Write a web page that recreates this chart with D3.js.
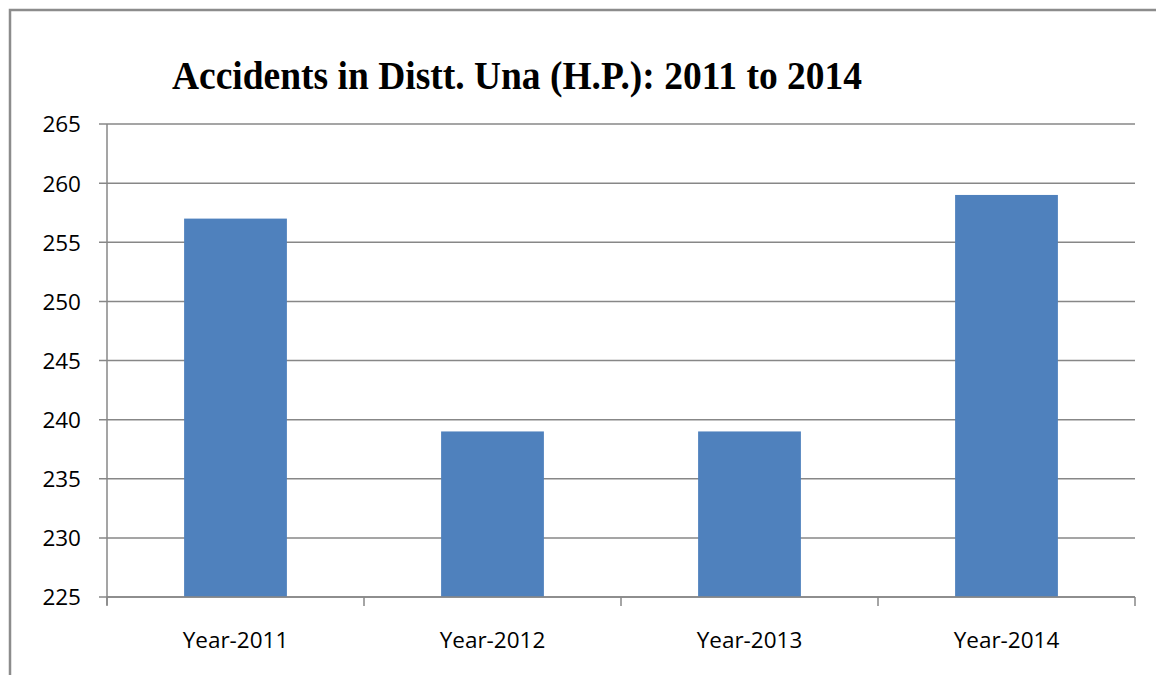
<!DOCTYPE html>
<html>
<head>
<meta charset="utf-8">
<script src="https://cdn.jsdelivr.net/npm/d3@7"></script>
<style>
html,body{margin:0;padding:0;background:#fff;}
svg{display:block;}
</style>
</head>
<body>
<svg id="chart" width="1156" height="675"></svg>
<script>
const categories = ["Year-2011", "Year-2012", "Year-2013", "Year-2014"];
const accidents = [257, 239, 239, 259];
const yTicks = [225, 230, 235, 240, 245, 250, 255, 260, 265];
const titleText = "Accidents in Distt. Una (H.P.): 2011 to 2014";

const svg = d3.select("#chart");
const W = 1156, H = 675;
const plot = {left: 107, right: 1135, top: 124, bottom: 597};

svg.append("rect").attr("width", W).attr("height", H).attr("fill", "#fff");
// outer border
svg.append("rect")
  .attr("x", 10).attr("y", 10).attr("width", W + 20).attr("height", H + 20)
  .attr("fill", "none").attr("stroke", "#8c8c8c").attr("stroke-width", 2.5);

const x = d3.scaleBand().domain(categories).range([plot.left, plot.right])
  .paddingInner(0.6).paddingOuter(0.3);
const y = d3.scaleLinear().domain([225, 265]).range([plot.bottom, plot.top]);

const gridColor = "#878787";

// gridlines
svg.append("g").selectAll("line").data(yTicks).join("line")
  .attr("x1", plot.left - 8).attr("x2", plot.right)
  .attr("y1", d => y(d)).attr("y2", d => y(d))
  .attr("stroke", gridColor).attr("stroke-width", 1.5);

// bars
svg.append("g").selectAll("rect").data(accidents).join("rect")
  .attr("x", (d, i) => x(categories[i]))
  .attr("width", x.bandwidth())
  .attr("y", d => y(d))
  .attr("height", d => y(225) - y(d))
  .attr("fill", "#4F81BD");

// y axis line
svg.append("line").attr("x1", plot.left).attr("x2", plot.left)
  .attr("y1", plot.top).attr("y2", plot.bottom + 8)
  .attr("stroke", gridColor).attr("stroke-width", 1.5);

// x axis
const xAxis = d3.axisBottom(x).tickSize(0).tickPadding(0).tickFormat(d => d);
const gx = svg.append("g").attr("transform", `translate(0,${plot.bottom})`).call(xAxis);
gx.select(".domain").remove();
gx.selectAll(".tick text")
  .attr("y", 51).attr("dy", 0)
  .attr("font-family", "'Open Sans', sans-serif").attr("font-size", 22.5).attr("fill", "#000");
svg.append("line").attr("x1", plot.left).attr("x2", plot.right)
  .attr("y1", plot.bottom).attr("y2", plot.bottom)
  .attr("stroke", gridColor).attr("stroke-width", 1.5);
// x tick marks at category boundaries
const step = x.step();
const bounds = d3.range(categories.length + 1).map(i => plot.left + i * step);
svg.append("g").selectAll("line").data(bounds).join("line")
  .attr("x1", d => d).attr("x2", d => d)
  .attr("y1", plot.bottom).attr("y2", plot.bottom + 9)
  .attr("stroke", gridColor).attr("stroke-width", 1.5);

// y axis labels
const yAxis = d3.axisLeft(y).tickValues(yTicks).tickSize(0).tickPadding(26);
const gy = svg.append("g").attr("transform", `translate(${plot.left},0)`).call(yAxis);
gy.select(".domain").remove();
gy.selectAll(".tick text")
  .attr("font-family", "'Open Sans', sans-serif").attr("font-size", 22.5).attr("fill", "#000")
  .attr("dy", "0.35em");

// title
svg.append("text")
  .attr("x", 172).attr("y", 89)
  .attr("font-family", "'Liberation Serif', 'Times New Roman', serif")
  .attr("font-weight", "bold").attr("font-size", 39)
  .attr("textLength", 690).attr("lengthAdjust", "spacingAndGlyphs")
  .attr("fill", "#000")
  .text(titleText);
</script>
</body>
</html>
